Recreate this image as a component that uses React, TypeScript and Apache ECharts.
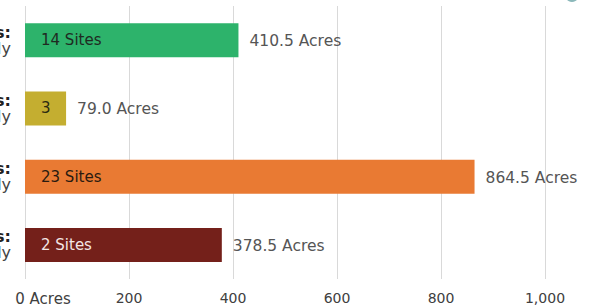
import React, { useEffect, useRef } from "react";
import * as echarts from "echarts";

const categories = [
  "Tier 1 Sites:\nShovel Ready",
  "Tier 2 Sites:\nNearly Ready",
  "Tier 3 Sites:\nPartially Ready",
  "Tier 4 Sites:\nNot Yet Ready",
];
const acres = [410.5, 79.0, 864.5, 378.5];
const siteLabels = ["14 Sites", "3", "23 Sites", "2 Sites"];
const barColors = ["#2DB36B", "#C4AE30", "#E97A33", "#74201A"];
const insideLabelColors = ["#1f2a22", "#2b2a10", "#2a1a10", "#f3e6e4"];
const xTicks = [0, 200, 400, 600, 800, 1000];

export default function App() {
  const ref = useRef<HTMLDivElement>(null);
  useEffect(() => {
    if (!ref.current) return;
    const chart = echarts.init(ref.current, undefined, { renderer: "svg" });
    const font = "DejaVu Sans";
    chart.setOption({
      animation: false,
      grid: { left: 25, right: 55, top: 6, bottom: 29, containLabel: false, outerBoundsMode: "none" },
      xAxis: {
        type: "value",
        min: xTicks[0],
        max: xTicks[xTicks.length - 1],
        interval: 200,
        axisLine: { show: false },
        axisTick: { show: false },
        splitLine: { show: true, lineStyle: { color: "#d9d9d9", width: 1 } },
        axisLabel: {
          margin: 12,
          color: "#404040",
          fontFamily: font,
          fontSize: 14,
          formatter: (v: number) =>
            v === 0 ? "{z|0 Acres}" : v.toLocaleString("en-US"),
          rich: {
            z: { padding: [0, 0, 0, 36], color: "#404040", fontFamily: font, fontSize: 15 },
          },
        },
      },
      yAxis: {
        type: "category",
        inverse: true,
        data: categories,
        axisLine: { show: false },
        axisTick: { show: false },
        axisLabel: {
          margin: 14,
          fontFamily: font,
          formatter: (v: string) => {
            const [a, b] = v.split("\n");
            return `{a|${a}}\n{b|${b}}`;
          },
          rich: {
            a: { fontWeight: "bold", color: "#222", fontSize: 16, lineHeight: 16, fontFamily: font, align: "right" },
            b: { color: "#444", fontSize: 16, lineHeight: 16, fontFamily: font, align: "right" },
          },
        },
      },
      series: [
        {
          type: "bar",
          barWidth: 34,
          data: acres.map((v, i) => ({
            value: v,
            itemStyle: { color: barColors[i] },
            label: {
              show: true,
              position: "insideLeft",
              distance: 16,
              formatter: siteLabels[i],
              color: insideLabelColors[i],
              fontFamily: font,
              fontSize: 15,
            },
          })),
        },
        {
          type: "bar",
          barWidth: 34,
          barGap: "-100%",
          itemStyle: { color: "transparent" },
          silent: true,
          data: acres.map((v) => ({
            value: v,
            label: {
              show: true,
              position: "right",
              distance: 11,
              offset: [0, 1],
              formatter: `${v.toFixed(1)} Acres`,
              color: "#555",
              fontFamily: font,
              fontSize: 15.5,
            },
          })),
        },
      ],
      graphic: [
        { type: "circle", shape: { cx: 572, cy: -5, r: 7 }, style: { fill: "#8bb8ba" } },
      ],
    });
    return () => chart.dispose();
  }, []);
  return <div ref={ref} style={{ width: 600, height: 308, position: "absolute", left: 0, top: 0 }} />;
}
